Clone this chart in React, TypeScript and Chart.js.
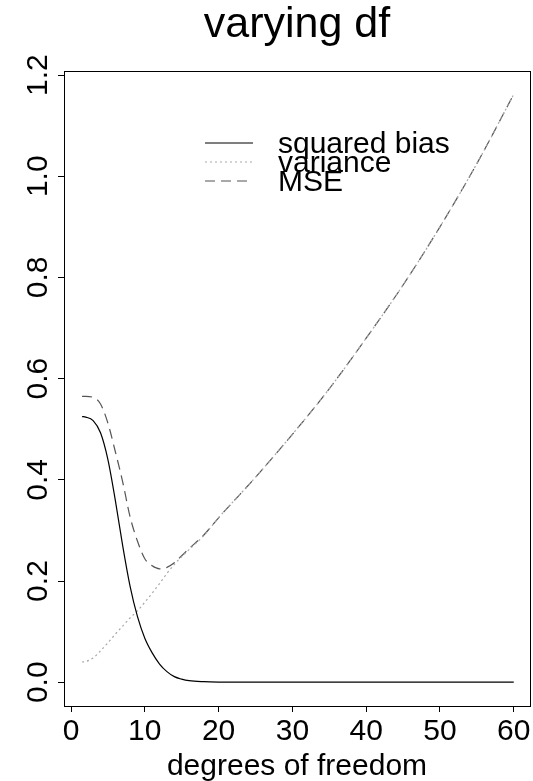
import { useEffect, useRef } from "react";
import { Chart, registerables } from "chart.js";

Chart.register(...registerables);

const TITLE = "varying df";
const X_TITLE = "degrees of freedom";
const LEGEND_LABELS = ["squared bias", "variance", "MSE"];

const degreesOfFreedom = [1.5, 2, 3, 4, 5, 6, 7, 8, 9, 10, 11, 12, 13, 14, 15, 16, 18, 20, 25, 30, 35, 40, 45, 50, 55, 60];
const squaredBias = [0.525, 0.524, 0.517, 0.493, 0.44, 0.36, 0.27, 0.19, 0.13, 0.087, 0.058, 0.036, 0.021, 0.011, 0.006, 0.003, 0.001, 0.0003, 0, 0, 0, 0, 0, 0, 0, 0];
const variance = [0.04, 0.041, 0.048, 0.062, 0.078, 0.095, 0.111, 0.127, 0.141, 0.158, 0.176, 0.195, 0.215, 0.233, 0.248, 0.262, 0.29, 0.325, 0.405, 0.49, 0.58, 0.68, 0.785, 0.9, 1.025, 1.162];
const mse = [0.565, 0.565, 0.563, 0.55, 0.512, 0.456, 0.396, 0.327, 0.279, 0.244, 0.23, 0.224, 0.227, 0.236, 0.25, 0.264, 0.291, 0.325, 0.405, 0.49, 0.58, 0.68, 0.785, 0.9, 1.025, 1.162];

const xTicks = [0, 10, 20, 30, 40, 50, 60];
const yTicks = [0, 0.2, 0.4, 0.6, 0.8, 1.0, 1.2];

const X_MIN = -0.95;
const X_MAX = 62.2;
const Y_MIN = -0.047;
const Y_MAX = 1.208;

const FONT = '"Liberation Sans", Arial, Helvetica, sans-serif';
const SOLID_COLOR = "#000000";
const DOTTED_COLOR = "#a8a8a8";
const DASHED_COLOR = "#555555";
const DOT_PATTERN = [2, 3];
const DASH_PATTERN = [10, 6];

const decorations = {
  id: "decorations",
  afterDraw(chart: any) {
    const { ctx, chartArea } = chart;
    ctx.save();
    ctx.fillStyle = "#000";
    ctx.font = `43px ${FONT}`;
    ctx.textAlign = "center";
    ctx.textBaseline = "alphabetic";
    ctx.fillText(TITLE, (chartArea.left + chartArea.right) / 2, 37);

    const styles = [
      { color: SOLID_COLOR, dash: [] as number[] },
      { color: DOTTED_COLOR, dash: DOT_PATTERN },
      { color: DASHED_COLOR, dash: DASH_PATTERN },
    ];
    const lineX1 = chartArea.left + 141;
    const lineX2 = chartArea.left + 189;
    const textX = chartArea.left + 214;
    const firstY = chartArea.top + 72;
    const rowGap = 19;
    ctx.font = `30px ${FONT}`;
    ctx.textAlign = "left";
    LEGEND_LABELS.forEach((label, i) => {
      const y = firstY + i * rowGap;
      ctx.beginPath();
      ctx.strokeStyle = styles[i].color;
      ctx.lineWidth = 1.2;
      ctx.setLineDash(styles[i].dash);
      ctx.moveTo(lineX1, y);
      ctx.lineTo(lineX2, y);
      ctx.stroke();
      ctx.setLineDash([]);
      ctx.fillStyle = "#000";
      ctx.fillText(label, textX, y + 9.5);
    });
    ctx.restore();
  },
};

export default function App() {
  const canvasRef = useRef<HTMLCanvasElement | null>(null);

  useEffect(() => {
    const canvas = canvasRef.current;
    if (!canvas) return;
    const toPoints = (ys: number[]) => degreesOfFreedom.map((x, i) => ({ x, y: ys[i] }));
    const tickGrid = {
      display: true,
      drawOnChartArea: false,
      drawTicks: true,
      tickLength: 6,
      color: "#000",
      lineWidth: 1,
    };
    const hiddenGrid = { display: true, drawOnChartArea: false, drawTicks: false, color: "rgba(0,0,0,0)" };
    const border = { display: true, color: "#000", width: 1 };

    const chart = new Chart(canvas, {
      type: "line",
      data: {
        datasets: [
          {
            label: LEGEND_LABELS[0],
            data: toPoints(squaredBias),
            borderColor: SOLID_COLOR,
            borderWidth: 1.2,
            pointRadius: 0,
            cubicInterpolationMode: "monotone",
            xAxisID: "x",
            yAxisID: "y",
          },
          {
            label: LEGEND_LABELS[1],
            data: toPoints(variance),
            borderColor: DOTTED_COLOR,
            borderWidth: 1.2,
            borderDash: DOT_PATTERN,
            pointRadius: 0,
            cubicInterpolationMode: "monotone",
            xAxisID: "x",
            yAxisID: "y",
          },
          {
            label: LEGEND_LABELS[2],
            data: toPoints(mse),
            borderColor: DASHED_COLOR,
            borderWidth: 1.2,
            borderDash: DASH_PATTERN,
            pointRadius: 0,
            cubicInterpolationMode: "monotone",
            xAxisID: "x",
            yAxisID: "y",
          },
        ],
      },
      options: {
        responsive: false,
        animation: false,
        devicePixelRatio: 1,
        layout: { padding: 0 },
        plugins: {
          legend: { display: false },
          title: { display: false },
          tooltip: { enabled: false },
        },
        scales: {
          x: {
            type: "linear",
            position: "bottom",
            min: X_MIN,
            max: X_MAX,
            bounds: "data",
            afterBuildTicks: (s: any) => {
              s.ticks = xTicks.map((value) => ({ value }));
            },
            afterFit: (s: any) => {
              s.height = 75;
            },
            grid: tickGrid,
            border,
            ticks: {
              color: "#000",
              font: { family: FONT, size: 30 },
              padding: 2,
              maxRotation: 0,
              autoSkip: false,
              callback: (v: any) => String(v),
            },
            title: {
              display: true,
              text: X_TITLE,
              color: "#000",
              font: { family: FONT, size: 30, lineHeight: 1 },
              padding: { top: 0, bottom: -1 },
            },
          },
          y: {
            type: "linear",
            position: "left",
            min: Y_MIN,
            max: Y_MAX,
            bounds: "data",
            afterBuildTicks: (s: any) => {
              s.ticks = yTicks.map((value) => ({ value }));
            },
            afterFit: (s: any) => {
              s.width = 64;
            },
            grid: tickGrid,
            border,
            ticks: {
              color: "#000",
              font: { family: FONT, size: 30 },
              padding: -2,
              minRotation: 90,
              maxRotation: 90,
              crossAlign: "center",
              autoSkip: false,
              callback: (v: any) => Number(v).toFixed(1),
            },
          },
          x2: {
            type: "linear",
            position: "top",
            min: 0,
            max: 1,
            afterFit: (s: any) => {
              s.height = 71;
            },
            grid: hiddenGrid,
            border,
            ticks: { display: false },
          },
          y2: {
            type: "linear",
            position: "right",
            min: 0,
            max: 1,
            afterFit: (s: any) => {
              s.width = 3;
            },
            grid: hiddenGrid,
            border,
            ticks: { display: false },
          },
        },
      },
      plugins: [decorations],
    } as any);

    return () => chart.destroy();
  }, []);

  return (
    <div style={{ position: "absolute", left: 0, top: 0, width: 533, height: 781, background: "#fff" }}>
      <canvas ref={canvasRef} width={533} height={781} style={{ display: "block", width: 533, height: 781 }} />
    </div>
  );
}
